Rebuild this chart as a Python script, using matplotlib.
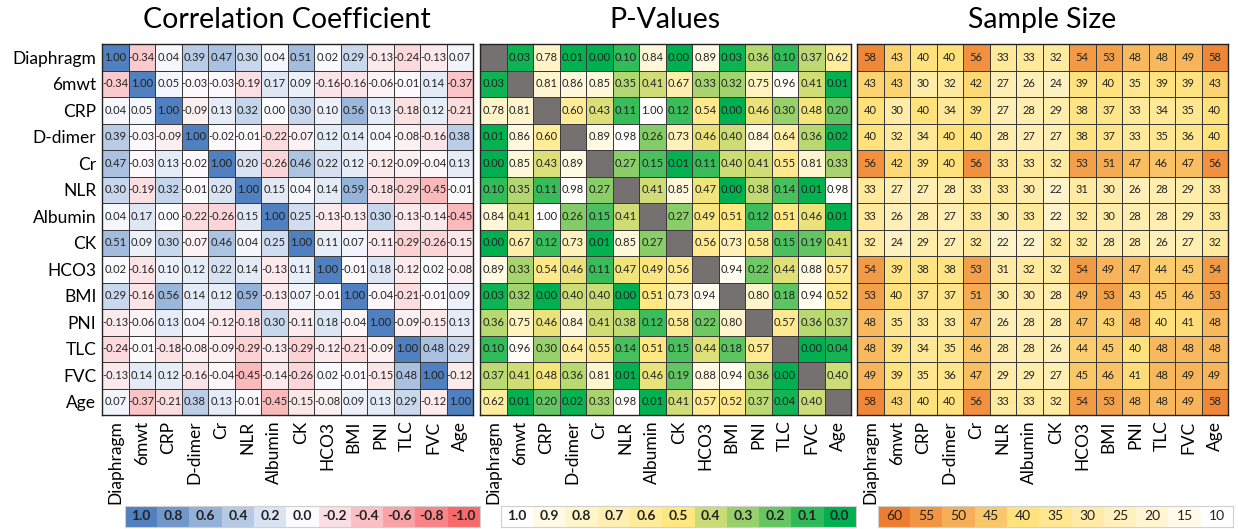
import numpy as np
import matplotlib.pyplot as plt
from matplotlib.colors import LinearSegmentedColormap, Normalize

plt.rcParams['font.family'] = ['Lato', 'DejaVu Sans']

labels = ["Diaphragm", "6mwt", "CRP", "D-dimer", "Cr", "NLR", "Albumin",
          "CK", "HCO3", "BMI", "PNI", "TLC", "FVC", "Age"]

corr = np.array([
    [1.00, -0.34, 0.04, 0.39, 0.47, 0.30, 0.04, 0.51, 0.02, 0.29, -0.13, -0.24, -0.13, 0.07],
    [-0.34, 1.00, 0.05, -0.03, -0.03, -0.19, 0.17, 0.09, -0.16, -0.16, -0.06, -0.01, 0.14, -0.37],
    [0.04, 0.05, 1.00, -0.09, 0.13, 0.32, 0.00, 0.30, 0.10, 0.56, 0.13, -0.18, 0.12, -0.21],
    [0.39, -0.03, -0.09, 1.00, -0.02, -0.01, -0.22, -0.07, 0.12, 0.14, 0.04, -0.08, -0.16, 0.38],
    [0.47, -0.03, 0.13, -0.02, 1.00, 0.20, -0.26, 0.46, 0.22, 0.12, -0.12, -0.09, -0.04, 0.13],
    [0.30, -0.19, 0.32, -0.01, 0.20, 1.00, 0.15, 0.04, 0.14, 0.59, -0.18, -0.29, -0.45, -0.01],
    [0.04, 0.17, 0.00, -0.22, -0.26, 0.15, 1.00, 0.25, -0.13, -0.13, 0.30, -0.13, -0.14, -0.45],
    [0.51, 0.09, 0.30, -0.07, 0.46, 0.04, 0.25, 1.00, 0.11, 0.07, -0.11, -0.29, -0.26, -0.15],
    [0.02, -0.16, 0.10, 0.12, 0.22, 0.14, -0.13, 0.11, 1.00, -0.01, 0.18, -0.12, 0.02, -0.08],
    [0.29, -0.16, 0.56, 0.14, 0.12, 0.59, -0.13, 0.07, -0.01, 1.00, -0.04, -0.21, -0.01, 0.09],
    [-0.13, -0.06, 0.13, 0.04, -0.12, -0.18, 0.30, -0.11, 0.18, -0.04, 1.00, -0.09, -0.15, 0.13],
    [-0.24, -0.01, -0.18, -0.08, -0.09, -0.29, -0.13, -0.29, -0.12, -0.21, -0.09, 1.00, 0.48, 0.29],
    [-0.13, 0.14, 0.12, -0.16, -0.04, -0.45, -0.14, -0.26, 0.02, -0.01, -0.15, 0.48, 1.00, -0.12],
    [0.07, -0.37, -0.21, 0.38, 0.13, -0.01, -0.45, -0.15, -0.08, 0.09, 0.13, 0.29, -0.12, 1.00],
])

nan = np.nan
pval = np.array([
    [nan, 0.03, 0.78, 0.01, 0.00, 0.10, 0.84, 0.00, 0.89, 0.03, 0.36, 0.10, 0.37, 0.62],
    [0.03, nan, 0.81, 0.86, 0.85, 0.35, 0.41, 0.67, 0.33, 0.32, 0.75, 0.96, 0.41, 0.01],
    [0.78, 0.81, nan, 0.60, 0.43, 0.11, 1.00, 0.12, 0.54, 0.00, 0.46, 0.30, 0.48, 0.20],
    [0.01, 0.86, 0.60, nan, 0.89, 0.98, 0.26, 0.73, 0.46, 0.40, 0.84, 0.64, 0.36, 0.02],
    [0.00, 0.85, 0.43, 0.89, nan, 0.27, 0.15, 0.01, 0.11, 0.40, 0.41, 0.55, 0.81, 0.33],
    [0.10, 0.35, 0.11, 0.98, 0.27, nan, 0.41, 0.85, 0.47, 0.00, 0.38, 0.14, 0.01, 0.98],
    [0.84, 0.41, 1.00, 0.26, 0.15, 0.41, nan, 0.27, 0.49, 0.51, 0.12, 0.51, 0.46, 0.01],
    [0.00, 0.67, 0.12, 0.73, 0.01, 0.85, 0.27, nan, 0.56, 0.73, 0.58, 0.15, 0.19, 0.41],
    [0.89, 0.33, 0.54, 0.46, 0.11, 0.47, 0.49, 0.56, nan, 0.94, 0.22, 0.44, 0.88, 0.57],
    [0.03, 0.32, 0.00, 0.40, 0.40, 0.00, 0.51, 0.73, 0.94, nan, 0.80, 0.18, 0.94, 0.52],
    [0.36, 0.75, 0.46, 0.84, 0.41, 0.38, 0.12, 0.58, 0.22, 0.80, nan, 0.57, 0.36, 0.37],
    [0.10, 0.96, 0.30, 0.64, 0.55, 0.14, 0.51, 0.15, 0.44, 0.18, 0.57, nan, 0.00, 0.04],
    [0.37, 0.41, 0.48, 0.36, 0.81, 0.01, 0.46, 0.19, 0.88, 0.94, 0.36, 0.00, nan, 0.40],
    [0.62, 0.01, 0.20, 0.02, 0.33, 0.98, 0.01, 0.41, 0.57, 0.52, 0.37, 0.04, 0.40, nan],
])

size = np.array([
    [58, 43, 40, 40, 56, 33, 33, 32, 54, 53, 48, 48, 49, 58],
    [43, 43, 30, 32, 42, 27, 26, 24, 39, 40, 35, 39, 39, 43],
    [40, 30, 40, 34, 39, 27, 28, 29, 38, 37, 33, 34, 35, 40],
    [40, 32, 34, 40, 40, 28, 27, 27, 38, 37, 33, 35, 36, 40],
    [56, 42, 39, 40, 56, 33, 33, 32, 53, 51, 47, 46, 47, 56],
    [33, 27, 27, 28, 33, 33, 30, 22, 31, 30, 26, 28, 29, 33],
    [33, 26, 28, 27, 33, 30, 33, 22, 32, 30, 28, 28, 29, 33],
    [32, 24, 29, 27, 32, 22, 22, 32, 32, 28, 28, 26, 27, 32],
    [54, 39, 38, 38, 53, 31, 32, 32, 54, 49, 47, 44, 45, 54],
    [53, 40, 37, 37, 51, 30, 30, 28, 49, 53, 43, 45, 46, 53],
    [48, 35, 33, 33, 47, 26, 28, 28, 47, 43, 48, 40, 41, 48],
    [48, 39, 34, 35, 46, 28, 28, 26, 44, 45, 40, 48, 48, 48],
    [49, 39, 35, 36, 47, 29, 29, 27, 45, 46, 41, 48, 49, 49],
    [58, 43, 40, 40, 56, 33, 33, 32, 54, 53, 48, 48, 49, 58],
])

corr_legend = [1.0, 0.8, 0.6, 0.4, 0.2, 0.0, -0.2, -0.4, -0.6, -0.8, -1.0]
p_legend = [1.0, 0.9, 0.8, 0.7, 0.6, 0.5, 0.4, 0.3, 0.2, 0.1, 0.0]
n_legend = [60, 55, 50, 45, 40, 35, 30, 25, 20, 15, 10]

cmap_corr = LinearSegmentedColormap.from_list(
    "corr", [(0, "#F8696B"), (0.5, "#FCFCFF"), (1, "#5080BF")])
cmap_p = LinearSegmentedColormap.from_list(
    "pv", [(0, "#00B050"), (0.5, "#FFE77F"), (1, "#FFFFFF")])
cmap_p.set_bad("#767171")
cmap_n = LinearSegmentedColormap.from_list(
    "ns", [(0, "#FFFFFF"), (0.6, "#FFE27C"), (1, "#ED7D31")])

norm_corr = Normalize(-1, 1)
norm_p = Normalize(0, 1)
norm_n = Normalize(10, 60)

W, H = 1238, 529
fig = plt.figure(figsize=(W / 100, H / 100), dpi=100)


def px_axes(x0, y0, w, h):
    return fig.add_axes([x0 / W, 1 - (y0 + h) / H, w / W, h / H])


def heat(x0, data, cmap, norm, fmt, title, ylab):
    ax = px_axes(x0, 44, 371, 371)
    ax.set_facecolor("#767171")
    ax.pcolormesh(np.ma.masked_invalid(data), cmap=cmap, norm=norm,
                  edgecolors="#3a3a3a", linewidth=0.5)
    ax.set_xlim(0, 14)
    ax.set_ylim(14, 0)
    for i in range(14):
        for j in range(14):
            if not np.isnan(data[i, j]):
                ax.text(j + 0.5, i + 0.5, fmt(data[i, j]), ha="center",
                        va="center", fontsize=8, color="#222222")
    ax.set_xticks(np.arange(14) + 0.5)
    ax.set_xticklabels(labels, rotation=90, fontsize=12.5)
    ax.set_yticks(np.arange(14) + 0.5)
    if ylab:
        ax.set_yticklabels(labels, fontsize=12.5)
    else:
        ax.set_yticklabels([])
    ax.tick_params(length=0, pad=4)
    for s in ax.spines.values():
        s.set_linewidth(1.0)
        s.set_color("#222222")
    fig.text((x0 + 185) / W, 1 - 20 / H, title, ha="center", va="center",
             fontsize=20.5)
    return ax


def legend_bar(x0, vals, cmap, norm, fmt, bold):
    ax = px_axes(x0, 506, 355, 21)
    ax.imshow(np.array([vals]), cmap=cmap, norm=norm, aspect="auto",
              extent=(0, len(vals), 0, 1))
    for k, v in enumerate(vals):
        ax.text(k + 0.5, 0.5, fmt(v), ha="center", va="center", fontsize=10,
                fontweight="bold" if bold else "normal", color="#222222")
    ax.set_xticks([])
    ax.set_yticks([])
    for s in ax.spines.values():
        s.set_color("#d0d0d0")
        s.set_linewidth(0.8)


heat(102, corr, cmap_corr, norm_corr, lambda v: f"{v:.2f}",
     "Correlation Coefficient", True)
heat(480, pval, cmap_p, norm_p, lambda v: f"{v:.2f}", "P-Values", False)
heat(857, size, cmap_n, norm_n, lambda v: f"{int(v)}", "Sample Size", False)

legend_bar(125, corr_legend, cmap_corr, norm_corr, lambda v: f"{v:.1f}", True)
legend_bar(501, p_legend, cmap_p, norm_p, lambda v: f"{v:.1f}", True)
legend_bar(878, n_legend, cmap_n, norm_n, lambda v: f"{v}", False)

fig.savefig("out.png", dpi=100)
